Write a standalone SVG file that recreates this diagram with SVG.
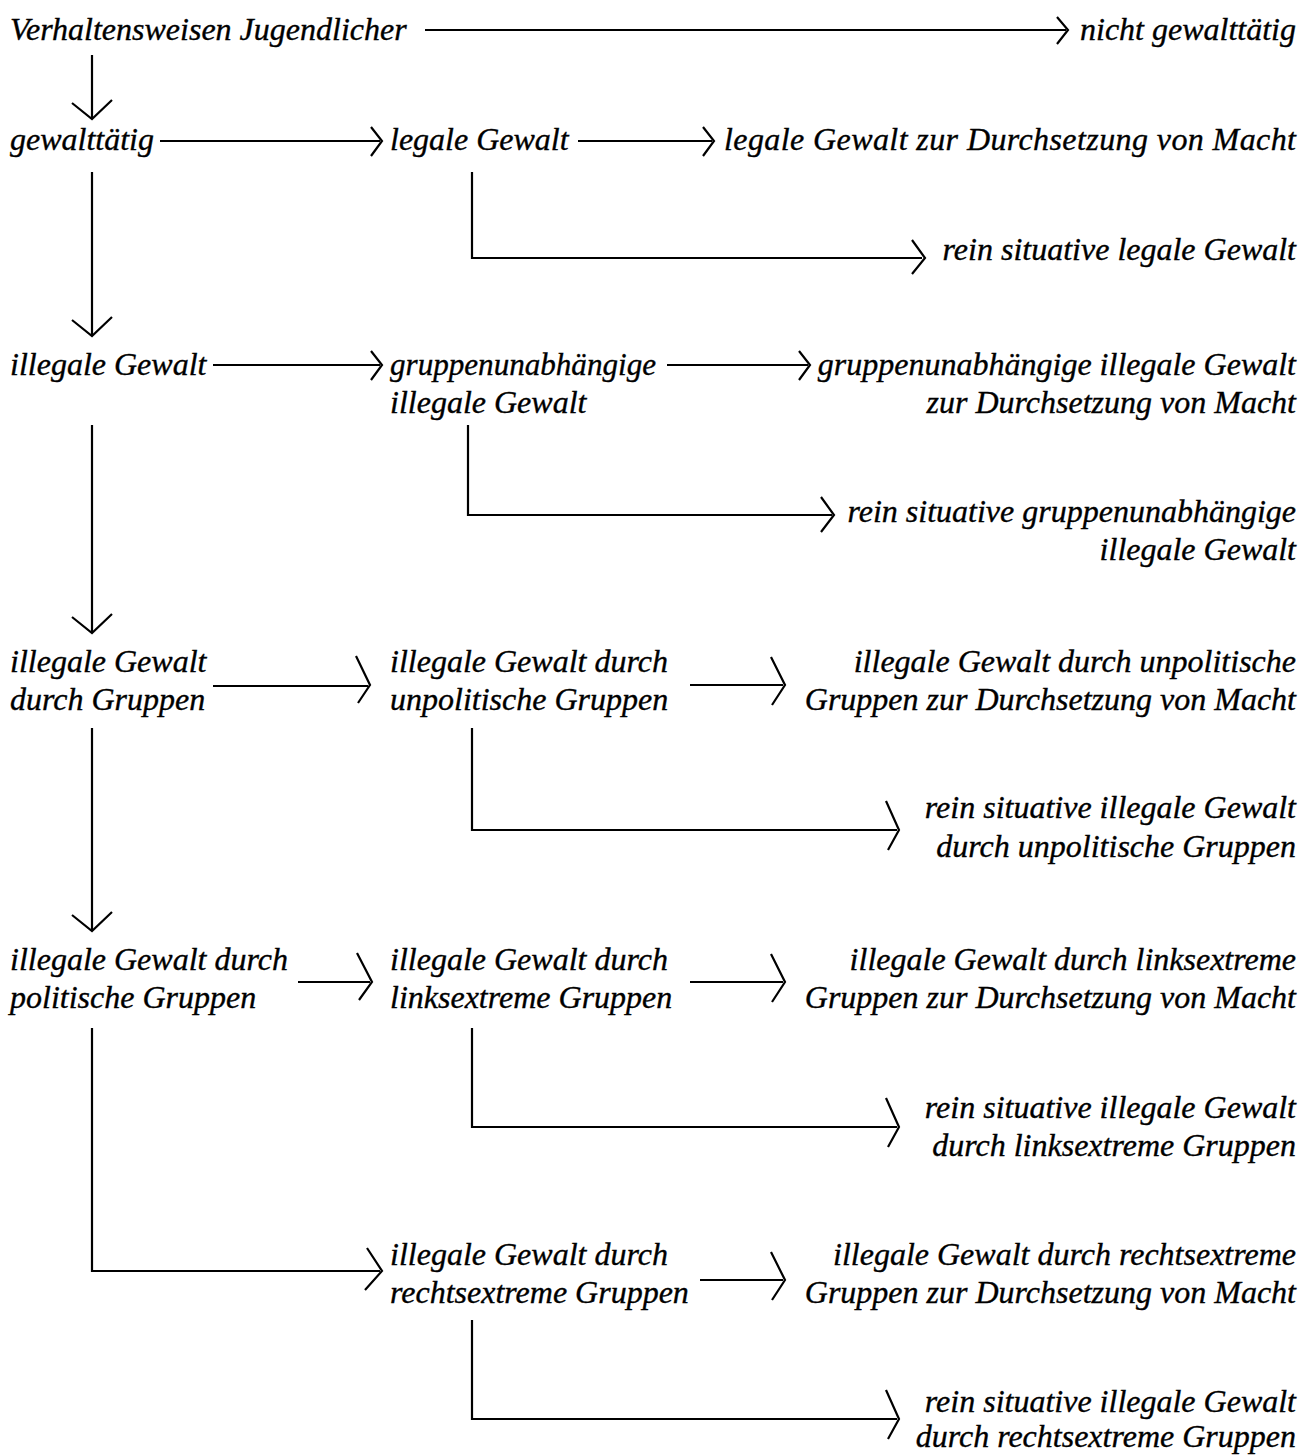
<svg xmlns="http://www.w3.org/2000/svg" width="1304" height="1456" viewBox="0 0 1304 1456">
<style>
text{font-family:"Liberation Serif","Times New Roman",serif;font-style:italic;font-size:32px;fill:#000;stroke:#000;stroke-width:0.35}
.r{text-anchor:end}
.ln{fill:none;stroke:#000;stroke-width:2.2}
.ah{fill:none;stroke:#000;stroke-width:2.2;stroke-linejoin:miter}
</style>
<rect width="1304" height="1456" fill="#fff"/>
<g id="n1"><text x="10" y="40">Verhaltensweisen Jugendlicher</text></g>
<g id="n2"><text class="r" x="1296" y="40">nicht gewalttätig</text></g>
<g id="n3"><text x="10" y="150">gewalttätig</text></g>
<g id="n4"><text x="390" y="150">legale Gewalt</text></g>
<g id="n5"><text x="724" y="150" textLength="572" lengthAdjust="spacing">legale Gewalt zur Durchsetzung von Macht</text></g>
<g id="n6"><text class="r" x="1296" y="260">rein situative legale Gewalt</text></g>
<g id="n7"><text x="10" y="375">illegale Gewalt</text></g>
<g id="n8"><text x="390" y="375" textLength="266" lengthAdjust="spacingAndGlyphs">gruppenunabhängige</text><text x="390" y="413">illegale Gewalt</text></g>
<g id="n9"><text class="r" x="1296" y="375">gruppenunabhängige illegale Gewalt</text><text class="r" x="1296" y="413">zur Durchsetzung von Macht</text></g>
<g id="n10"><text class="r" x="1296" y="522">rein situative gruppenunabhängige</text><text class="r" x="1296" y="560">illegale Gewalt</text></g>
<g id="n11"><text x="10" y="672">illegale Gewalt</text><text x="10" y="710">durch Gruppen</text></g>
<g id="n12"><text x="390" y="672">illegale Gewalt durch</text><text x="390" y="710">unpolitische Gruppen</text></g>
<g id="n13"><text class="r" x="1296" y="672">illegale Gewalt durch unpolitische</text><text class="r" x="1296" y="710">Gruppen zur Durchsetzung von Macht</text></g>
<g id="n14"><text class="r" x="1296" y="818">rein situative illegale Gewalt</text><text class="r" x="1296" y="857">durch unpolitische Gruppen</text></g>
<g id="n15"><text x="10" y="970">illegale Gewalt durch</text><text x="10" y="1008">politische Gruppen</text></g>
<g id="n16"><text x="390" y="970">illegale Gewalt durch</text><text x="390" y="1008">linksextreme Gruppen</text></g>
<g id="n17"><text class="r" x="1296" y="970">illegale Gewalt durch linksextreme</text><text class="r" x="1296" y="1008">Gruppen zur Durchsetzung von Macht</text></g>
<g id="n18"><text class="r" x="1296" y="1118">rein situative illegale Gewalt</text><text class="r" x="1296" y="1156">durch linksextreme Gruppen</text></g>
<g id="n19"><text x="390" y="1265">illegale Gewalt durch</text><text x="390" y="1303">rechtsextreme Gruppen</text></g>
<g id="n20"><text class="r" x="1296" y="1265">illegale Gewalt durch rechtsextreme</text><text class="r" x="1296" y="1303">Gruppen zur Durchsetzung von Macht</text></g>
<g id="n21"><text class="r" x="1296" y="1412">rein situative illegale Gewalt</text><text class="r" x="1296" y="1447">durch rechtsextreme Gruppen</text></g>
<g id="connectors">
<path class="ln" d="M425 30H1066"/><path class="ah" d="M1057 17L1068 30L1057 44"/>
<path class="ln" d="M92 55V118"/><path class="ah" d="M72 103L92 119L112 100"/>
<path class="ln" d="M160 141H380"/><path class="ah" d="M371 127L382 141L371 156"/>
<path class="ln" d="M578 141H712"/><path class="ah" d="M703 127L714 141L703 156"/>
<path class="ln" d="M472 172V258H922"/><path class="ah" d="M912 240L925 258L912 274"/>
<path class="ln" d="M92 172V335"/><path class="ah" d="M72 320L92 336L112 317"/>
<path class="ln" d="M213 365H380"/><path class="ah" d="M371 351L382 365L371 380"/>
<path class="ln" d="M667 365H808"/><path class="ah" d="M799 351L810 365L799 380"/>
<path class="ln" d="M468 425V515H832"/><path class="ah" d="M821 497L834 515L821 532"/>
<path class="ln" d="M92 425V632"/><path class="ah" d="M72 617L92 633L112 614"/>
<path class="ln" d="M213 686H368"/><path class="ah" d="M356 656L370 685L358 703"/>
<path class="ln" d="M690 685H783"/><path class="ah" d="M771 657L785 685L772 705"/>
<path class="ln" d="M472 728V830H897"/><path class="ah" d="M886 801L899 830L888 850"/>
<path class="ln" d="M92 728V930"/><path class="ah" d="M72 915L92 931L112 912"/>
<path class="ln" d="M298 982H370"/><path class="ah" d="M357 953L372 982L359 1000"/>
<path class="ln" d="M690 982H783"/><path class="ah" d="M771 954L785 982L772 1002"/>
<path class="ln" d="M472 1028V1127H897"/><path class="ah" d="M886 1098L899 1127L888 1147"/>
<path class="ln" d="M92 1028V1271H380"/><path class="ah" d="M367 1248L382 1271L365 1290"/>
<path class="ln" d="M700 1280H783"/><path class="ah" d="M771 1252L785 1280L772 1300"/>
<path class="ln" d="M472 1320V1419H897"/><path class="ah" d="M886 1390L899 1419L888 1439"/>
</g>
</svg>
